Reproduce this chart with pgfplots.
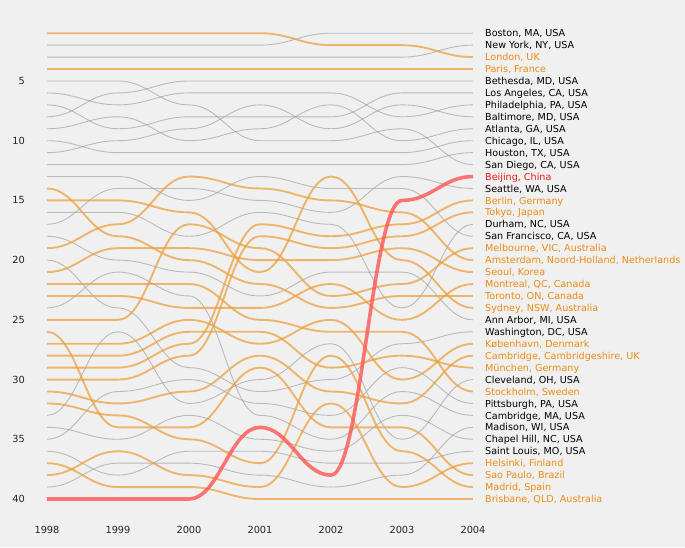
\documentclass[border=0pt]{standalone}
\usepackage{pgfplots}
\pgfplotsset{compat=1.18}
\usepackage{fontspec}
\setmainfont{DejaVu Sans}
\definecolor{bgc}{RGB}{240,240,240}
\definecolor{grayline}{RGB}{150,150,150}
\definecolor{orangeline}{RGB}{236,158,58}
\definecolor{redline}{RGB}{255,82,82}
\definecolor{orangetext}{RGB}{236,140,20}
\definecolor{redtext}{RGB}{235,25,25}
\makeatletter
\def\pgfplothandlersigmoid{%
  \def\pgf@plotstreamstart{%
    \global\let\pgf@plotstreampoint=\pgf@plot@sig@first
    \global\let\pgf@plotstreamspecial=\@gobble
    \global\let\pgf@plotstreamend=\relax
  }%
}
\def\pgf@plot@sig@first#1{%
  \pgf@process{#1}%
  \xdef\sig@lastx{\the\pgf@x}\xdef\sig@lasty{\the\pgf@y}%
  \pgf@plot@first@action{#1}%
  \global\let\pgf@plotstreampoint=\pgf@plot@sig@next
}
\def\pgf@plot@sig@next#1{%
  \pgf@process{#1}%
  \edef\sig@cx{\the\pgf@x}\edef\sig@cy{\the\pgf@y}%
  \pgf@xa=\sig@cx\relax
  \advance\pgf@xa by -\sig@lastx\relax
  \pgf@xa=0.42\pgf@xa
  \pgf@xb=\sig@lastx\relax \advance\pgf@xb by \pgf@xa
  \pgf@xc=\sig@cx\relax \advance\pgf@xc by -\pgf@xa
  \edef\sig@ax{\the\pgf@xb}\edef\sig@bx{\the\pgf@xc}%
  \pgfpathcurveto{\pgfqpoint{\sig@ax}{\sig@lasty}}{\pgfqpoint{\sig@bx}{\sig@cy}}{\pgfqpoint{\sig@cx}{\sig@cy}}%
  \xdef\sig@lastx{\sig@cx}\xdef\sig@lasty{\sig@cy}%
}
\tikzset{sigmoid/.code={\let\tikz@plot@handler=\pgfplothandlersigmoid}}
\makeatother
\pgfplotsset{
  us/.style={sigmoid, no markers, draw=grayline, draw opacity=0.6, line width=0.9pt},
  intl/.style={sigmoid, no markers, draw=orangeline, draw opacity=0.72, line width=1.9pt},
  bj/.style={sigmoid, no markers, draw=redline, draw opacity=0.78, line width=3.6pt},
}
\tikzset{lab/.style={anchor=base west, inner sep=0pt, xshift=12pt, yshift=-3.6pt, font=\fontsize{9.6}{11}\selectfont, text=black},
  olab/.style={lab, text=orangetext}}
\begin{document}
\begin{tikzpicture}
\fill[bgc] (-47pt,-48pt) rectangle (638pt,499pt);
\begin{axis}[
  scale only axis, width=426pt, height=465.8pt,
  xmin=1998, xmax=2004, ymin=1, ymax=40, y dir=reverse,
  enlargelimits=false, clip=false,
  axis line style={draw=none}, tick style={draw=none},
  xtick={1998,1999,2000,2001,2002,2003,2004}, ytick={5,10,15,20,25,30,35,40},
  /pgf/number format/1000 sep={}, /pgf/number format/assume math mode=true,
  tick label style={font=\fontsize{9.8}{11}\selectfont, text=black!85},
  xticklabel style={anchor=north, inner sep=0pt, yshift=-27pt},
  yticklabel style={anchor=east, inner sep=0pt, xshift=-22pt},
]
% US cities (gray)
\addplot[us] coordinates {(1998,2)(1999,2)(2000,2)(2001,2)(2002,1)(2003,1)(2004,1)};
\addplot[us] coordinates {(1998,3)(1999,3)(2000,3)(2001,3)(2002,3)(2003,3)(2004,2)};
\addplot[us] coordinates {(1998,8)(1999,6)(2000,5)(2001,5)(2002,5)(2003,5)(2004,5)};
\addplot[us] coordinates {(1998,7)(1999,9)(2000,8)(2001,8)(2002,8)(2003,6)(2004,6)};
\addplot[us] coordinates {(1998,6)(1999,7)(2000,6)(2001,6)(2002,6)(2003,8)(2004,7)};
\addplot[us] coordinates {(1998,11)(1999,10)(2000,9)(2001,7)(2002,9)(2003,7)(2004,8)};
\addplot[us] coordinates {(1998,9)(1999,8)(2000,10)(2001,9)(2002,7)(2003,10)(2004,9)};
\addplot[us] coordinates {(1998,10)(1999,11)(2000,11)(2001,11)(2002,11)(2003,11)(2004,10)};
\addplot[us] coordinates {(1998,12)(1999,12)(2000,12)(2001,12)(2002,12)(2003,12)(2004,11)};
\addplot[us] coordinates {(1998,5)(1999,5)(2000,7)(2001,10)(2002,10)(2003,9)(2004,12)};
\addplot[us] coordinates {(1998,17)(1999,14)(2000,14)(2001,15)(2002,16)(2003,13)(2004,14)};
\addplot[us] coordinates {(1998,16)(1999,16)(2000,18)(2001,16)(2002,17)(2003,24)(2004,17)};
\addplot[us] coordinates {(1998,13)(1999,13)(2000,15)(2001,13)(2002,14)(2003,14)(2004,18)};
\addplot[us] coordinates {(1998,18)(1999,20)(2000,21)(2001,23)(2002,21)(2003,21)(2004,25)};
\addplot[us] coordinates {(1998,20)(1999,24)(2000,29)(2001,31)(2002,30)(2003,27)(2004,26)};
\addplot[us] coordinates {(1998,33)(1999,26)(2000,32)(2001,30)(2002,27)(2003,35)(2004,30)};
\addplot[us] coordinates {(1998,35)(1999,31)(2000,30)(2001,32)(2002,33)(2003,29)(2004,32)};
\addplot[us] coordinates {(1998,24)(1999,21)(2000,23)(2001,33)(2002,35)(2003,31)(2004,33)};
\addplot[us] coordinates {(1998,39)(1999,37)(2000,37)(2001,38)(2002,39)(2003,38)(2004,34)};
\addplot[us] coordinates {(1998,34)(1999,35)(2000,33)(2001,35)(2002,36)(2003,33)(2004,35)};
\addplot[us] coordinates {(1998,36)(1999,38)(2000,36)(2001,36)(2002,37)(2003,37)(2004,36)};
% international cities (orange)
\addplot[intl] coordinates {(1998,1)(1999,1)(2000,1)(2001,1)(2002,2)(2003,2)(2004,3)};
\addplot[intl] coordinates {(1998,4)(1999,4)(2000,4)(2001,4)(2002,4)(2003,4)(2004,4)};
\addplot[intl] coordinates {(1998,29)(1999,29)(2000,27)(2001,17)(2002,18)(2003,17)(2004,15)};
\addplot[intl] coordinates {(1998,30)(1999,30)(2000,28)(2001,18)(2002,19)(2003,18)(2004,16)};
\addplot[intl] coordinates {(1998,25)(1999,25)(2000,17)(2001,19)(2002,23)(2003,22)(2004,19)};
\addplot[intl] coordinates {(1998,19)(1999,17)(2000,13)(2001,14)(2002,15)(2003,16)(2004,20)};
\addplot[intl] coordinates {(1998,21)(1999,19)(2000,19)(2001,20)(2002,20)(2003,19)(2004,21)};
\addplot[intl] coordinates {(1998,23)(1999,23)(2000,24)(2001,24)(2002,22)(2003,25)(2004,22)};
\addplot[intl] coordinates {(1998,14)(1999,18)(2000,20)(2001,22)(2002,24)(2003,23)(2004,23)};
\addplot[intl] coordinates {(1998,15)(1999,15)(2000,16)(2001,21)(2002,13)(2003,20)(2004,24)};
\addplot[intl] coordinates {(1998,27)(1999,27)(2000,25)(2001,27)(2002,25)(2003,30)(2004,27)};
\addplot[intl] coordinates {(1998,31)(1999,32)(2000,31)(2001,28)(2002,31)(2003,32)(2004,28)};
\addplot[intl] coordinates {(1998,28)(1999,28)(2000,26)(2001,26)(2002,29)(2003,28)(2004,29)};
\addplot[intl] coordinates {(1998,22)(1999,22)(2000,22)(2001,25)(2002,26)(2003,26)(2004,31)};
\addplot[intl] coordinates {(1998,38)(1999,36)(2000,38)(2001,39)(2002,32)(2003,39)(2004,37)};
\addplot[intl] coordinates {(1998,26)(1999,34)(2000,34)(2001,29)(2002,34)(2003,34)(2004,38)};
\addplot[intl] coordinates {(1998,32)(1999,33)(2000,35)(2001,37)(2002,28)(2003,36)(2004,39)};
\addplot[intl] coordinates {(1998,37)(1999,39)(2000,39)(2001,40)(2002,40)(2003,40)(2004,40)};
% Beijing (red)
\addplot[bj] coordinates {(1998,40)(1999,40)(2000,40)(2001,34)(2002,38)(2003,15)(2004,13)};
% labels
\node[lab]  at (axis cs:2004,1)  {Boston, MA, USA};
\node[lab]  at (axis cs:2004,2)  {New York, NY, USA};
\node[olab] at (axis cs:2004,3)  {London, UK};
\node[olab] at (axis cs:2004,4)  {Paris, France};
\node[lab]  at (axis cs:2004,5)  {Bethesda, MD, USA};
\node[lab]  at (axis cs:2004,6)  {Los Angeles, CA, USA};
\node[lab]  at (axis cs:2004,7)  {Philadelphia, PA, USA};
\node[lab]  at (axis cs:2004,8)  {Baltimore, MD, USA};
\node[lab]  at (axis cs:2004,9)  {Atlanta, GA, USA};
\node[lab]  at (axis cs:2004,10) {Chicago, IL, USA};
\node[lab]  at (axis cs:2004,11) {Houston, TX, USA};
\node[lab]  at (axis cs:2004,12) {San Diego, CA, USA};
\node[lab, text=redtext] at (axis cs:2004,13) {Beijing, China};
\node[lab]  at (axis cs:2004,14) {Seattle, WA, USA};
\node[olab] at (axis cs:2004,15) {Berlin, Germany};
\node[olab] at (axis cs:2004,16) {Tokyo, Japan};
\node[lab]  at (axis cs:2004,17) {Durham, NC, USA};
\node[lab]  at (axis cs:2004,18) {San Francisco, CA, USA};
\node[olab] at (axis cs:2004,19) {Melbourne, VIC, Australia};
\node[olab] at (axis cs:2004,20) {Amsterdam, Noord-Holland, Netherlands};
\node[olab] at (axis cs:2004,21) {Seoul, Korea};
\node[olab] at (axis cs:2004,22) {Montreal, QC, Canada};
\node[olab] at (axis cs:2004,23) {Toronto, ON, Canada};
\node[olab] at (axis cs:2004,24) {Sydney, NSW, Australia};
\node[lab]  at (axis cs:2004,25) {Ann Arbor, MI, USA};
\node[lab]  at (axis cs:2004,26) {Washington, DC, USA};
\node[olab] at (axis cs:2004,27) {København, Denmark};
\node[olab] at (axis cs:2004,28) {Cambridge, Cambridgeshire, UK};
\node[olab] at (axis cs:2004,29) {München, Germany};
\node[lab]  at (axis cs:2004,30) {Cleveland, OH, USA};
\node[olab] at (axis cs:2004,31) {Stockholm, Sweden};
\node[lab]  at (axis cs:2004,32) {Pittsburgh, PA, USA};
\node[lab]  at (axis cs:2004,33) {Cambridge, MA, USA};
\node[lab]  at (axis cs:2004,34) {Madison, WI, USA};
\node[lab]  at (axis cs:2004,35) {Chapel Hill, NC, USA};
\node[lab]  at (axis cs:2004,36) {Saint Louis, MO, USA};
\node[olab] at (axis cs:2004,37) {Helsinki, Finland};
\node[olab] at (axis cs:2004,38) {Sao Paulo, Brazil};
\node[olab] at (axis cs:2004,39) {Madrid, Spain};
\node[olab] at (axis cs:2004,40) {Brisbane, QLD, Australia};
\end{axis}
\pgfresetboundingbox
\path (-47pt,-48pt) rectangle (638pt,499pt);
\end{tikzpicture}
\end{document}
